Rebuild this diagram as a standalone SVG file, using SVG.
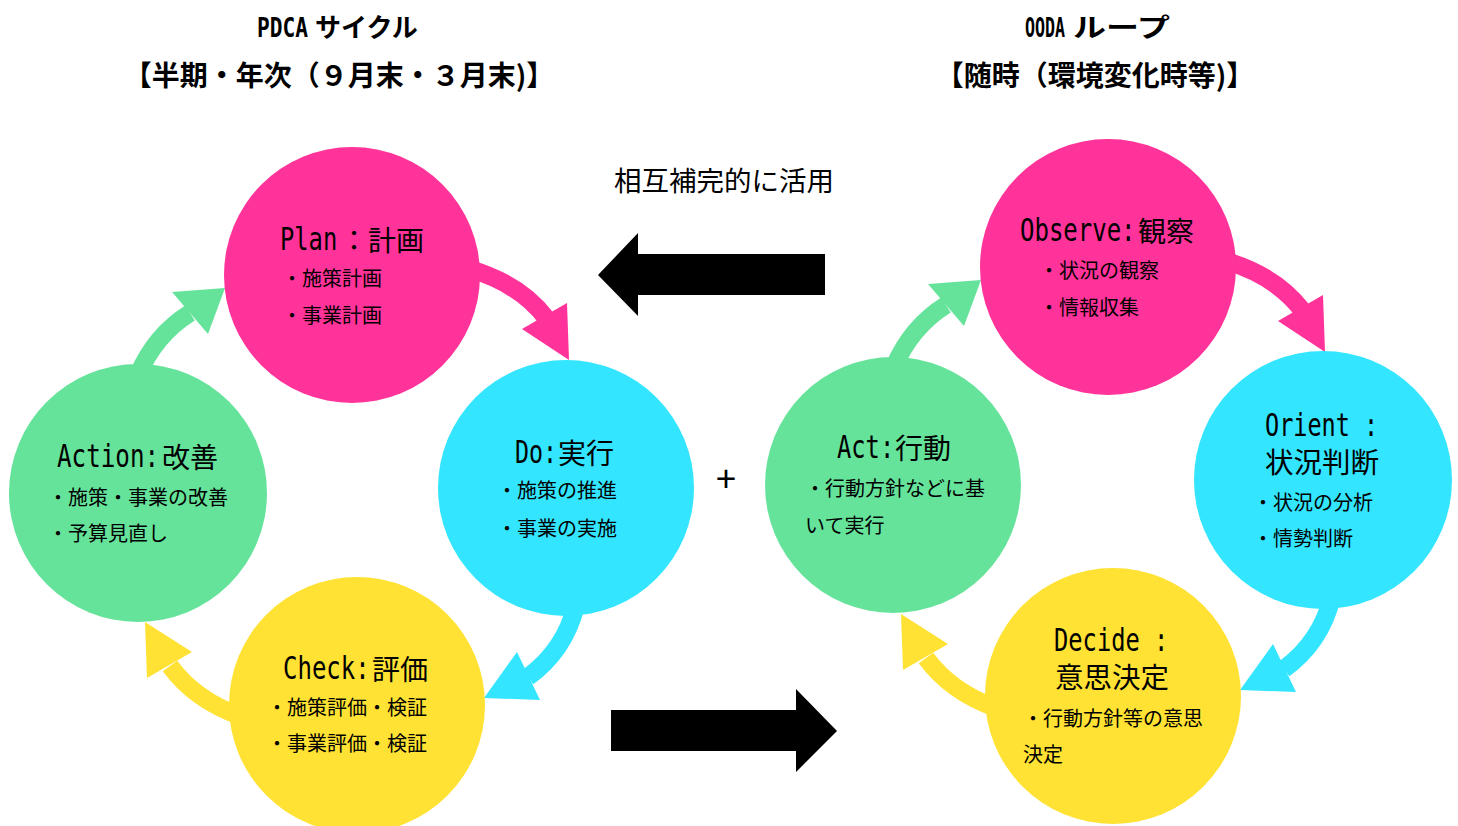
<svg xmlns="http://www.w3.org/2000/svg" width="1458" height="826" viewBox="0 0 1458 826">
<style>
.jp{font-family:"Noto Sans CJK JP","Noto Sans CJK SC",sans-serif;fill:#000}
.lat{font-family:"DejaVu Sans Mono","Liberation Mono",monospace;font-size:24px;fill:#000}
.h{font-size:28px}
.s{font-size:20px}
.tt{font-weight:bold}
.shaft{fill:none;stroke-width:18;stroke-linecap:butt}
.pk{fill:#FF3399}.cy{fill:#33E5FF}.gr{fill:#66E39A}.ye{fill:#FFE233}
.spk{stroke:#FF3399}.scy{stroke:#33E5FF}.sgr{stroke:#66E39A}.sye{stroke:#FFE233}
</style>
<rect width="1458" height="826" fill="#fff"/>
<g id="titles">
<text class="lat tt" style="font-size:27px" transform="matrix(0.785,0,0,1,257,37)">PDCA</text>
<text class="jp tt" x="315" y="37" style="font-size:26px">サイクル</text>
<text class="jp tt h" x="339" y="86" text-anchor="middle">【半期・年次（９月末・３月末)】</text>
<text class="lat tt" style="font-size:27px" transform="matrix(0.615,0,0,1,1025,37)">OODA</text>
<text class="jp tt" x="1073" y="37" style="font-size:26px" textLength="97" lengthAdjust="spacingAndGlyphs">ループ</text>
<text class="jp tt h" x="1095" y="86" text-anchor="middle">【随時（環境変化時等)】</text>
</g>
<g id="connectors">
<g id="pdca-arrows">
<path class="shaft spk" d="M470,269 Q520,284 546,318"/>
<polygon class="pk" points="522,329 567,303 569,360"/>
<path class="shaft scy" d="M576,605 Q565,650 528,677"/>
<polygon class="cy" points="517,652 540,700 484,698"/>
<path class="shaft sye" d="M240,716 Q195,700 170,666"/>
<polygon class="ye" points="145,622 147,678 192,652"/>
<path class="shaft sgr" d="M138,375 Q155,335 190,313"/>
<polygon class="gr" points="172,292 208,334 225,288"/>
</g>
<g id="ooda-arrows" transform="translate(756,-8)">
<path class="shaft spk" d="M470,269 Q520,284 546,318"/>
<polygon class="pk" points="522,329 567,303 569,360"/>
<path class="shaft scy" d="M576,605 Q565,650 528,677"/>
<polygon class="cy" points="517,652 540,700 484,698"/>
<path class="shaft sye" d="M240,716 Q195,700 170,666"/>
<polygon class="ye" points="145,622 147,678 192,652"/>
<path class="shaft sgr" d="M138,375 Q155,335 190,313"/>
<polygon class="gr" points="172,292 208,334 225,288"/>
</g>
<polygon id="arrow-left" fill="#000" points="598,275 638,233 638,254 825,254 825,295 638,295 638,316"/>
<polygon id="arrow-right" fill="#000" points="611,710 796,710 796,689 837,731 796,772 796,751 611,751"/>
</g>
<g id="plan">
<circle class="pk" cx="352" cy="275" r="128"/>
<text class="lat" transform="matrix(0.99,0,0,1.3,280,250)">Plan</text>
<text class="jp h" x="340" y="251">：計画</text>
<text class="jp s" x="282" y="286">・施策計画</text>
<text class="jp s" x="282" y="323">・事業計画</text>
</g>
<g id="do">
<circle class="cy" cx="566" cy="488" r="128"/>
<text class="lat" transform="matrix(0.97,0,0,1.3,515,463)">Do:</text>
<text class="jp h" x="558" y="464">実行</text>
<text class="jp s" x="497" y="498">・施策の推進</text>
<text class="jp s" x="497" y="536">・事業の実施</text>
</g>
<g id="check">
<circle class="ye" cx="357" cy="705" r="128"/>
<text class="lat" transform="matrix(1,0,0,1.3,283,679)">Check:</text>
<text class="jp h" x="372" y="680">評価</text>
<text class="jp s" x="267" y="715">・施策評価・検証</text>
<text class="jp s" x="267" y="751">・事業評価・検証</text>
</g>
<g id="action">
<circle class="gr" cx="138" cy="493" r="129"/>
<text class="lat" transform="matrix(1.01,0,0,1.3,57,467)">Action:</text>
<text class="jp h" x="162" y="468">改善</text>
<text class="jp s" x="48" y="505">・施策・事業の改善</text>
<text class="jp s" x="48" y="541">・予算見直し</text>
</g>
<text id="label-mutual" class="jp" x="724" y="191" text-anchor="middle" style="font-size:27.5px">相互補完的に活用</text>
<text id="plus" class="jp" x="726" y="492" text-anchor="middle" style="font-size:36px">+</text>
<g id="observe">
<circle class="pk" cx="1108" cy="267" r="128"/>
<text class="lat" transform="matrix(1,0,0,1.3,1020,241)">Observe:</text>
<text class="jp h" x="1138" y="242">観察</text>
<text class="jp s" x="1039" y="278">・状況の観察</text>
<text class="jp s" x="1039" y="315">・情報収集</text>
</g>
<g id="orient">
<circle class="cy" cx="1323" cy="480" r="129"/>
<text class="lat" transform="matrix(0.98,0,0,1.3,1265,436)" xml:space="preserve">Orient :</text>
<text class="jp" x="1265" y="473" style="font-size:28.5px">状況判断</text>
<text class="jp s" x="1253" y="510">・状況の分析</text>
<text class="jp s" x="1253" y="546">・情勢判断</text>
</g>
<g id="decide">
<circle class="ye" cx="1113" cy="696" r="128"/>
<text class="lat" transform="matrix(0.99,0,0,1.3,1054,651)" xml:space="preserve">Decide :</text>
<text class="jp" x="1055" y="688" style="font-size:28.5px">意思決定</text>
<text class="jp s" x="1023" y="726">・行動方針等の意思</text>
<text class="jp s" x="1023" y="762">決定</text>
</g>
<g id="act">
<circle class="gr" cx="893" cy="485" r="128"/>
<text class="lat" transform="matrix(0.99,0,0,1.3,837,458)">Act:</text>
<text class="jp h" x="895" y="459">行動</text>
<text class="jp s" x="805" y="496">・行動方針などに基</text>
<text class="jp s" x="805" y="533">いて実行</text>
</g>
</svg>
